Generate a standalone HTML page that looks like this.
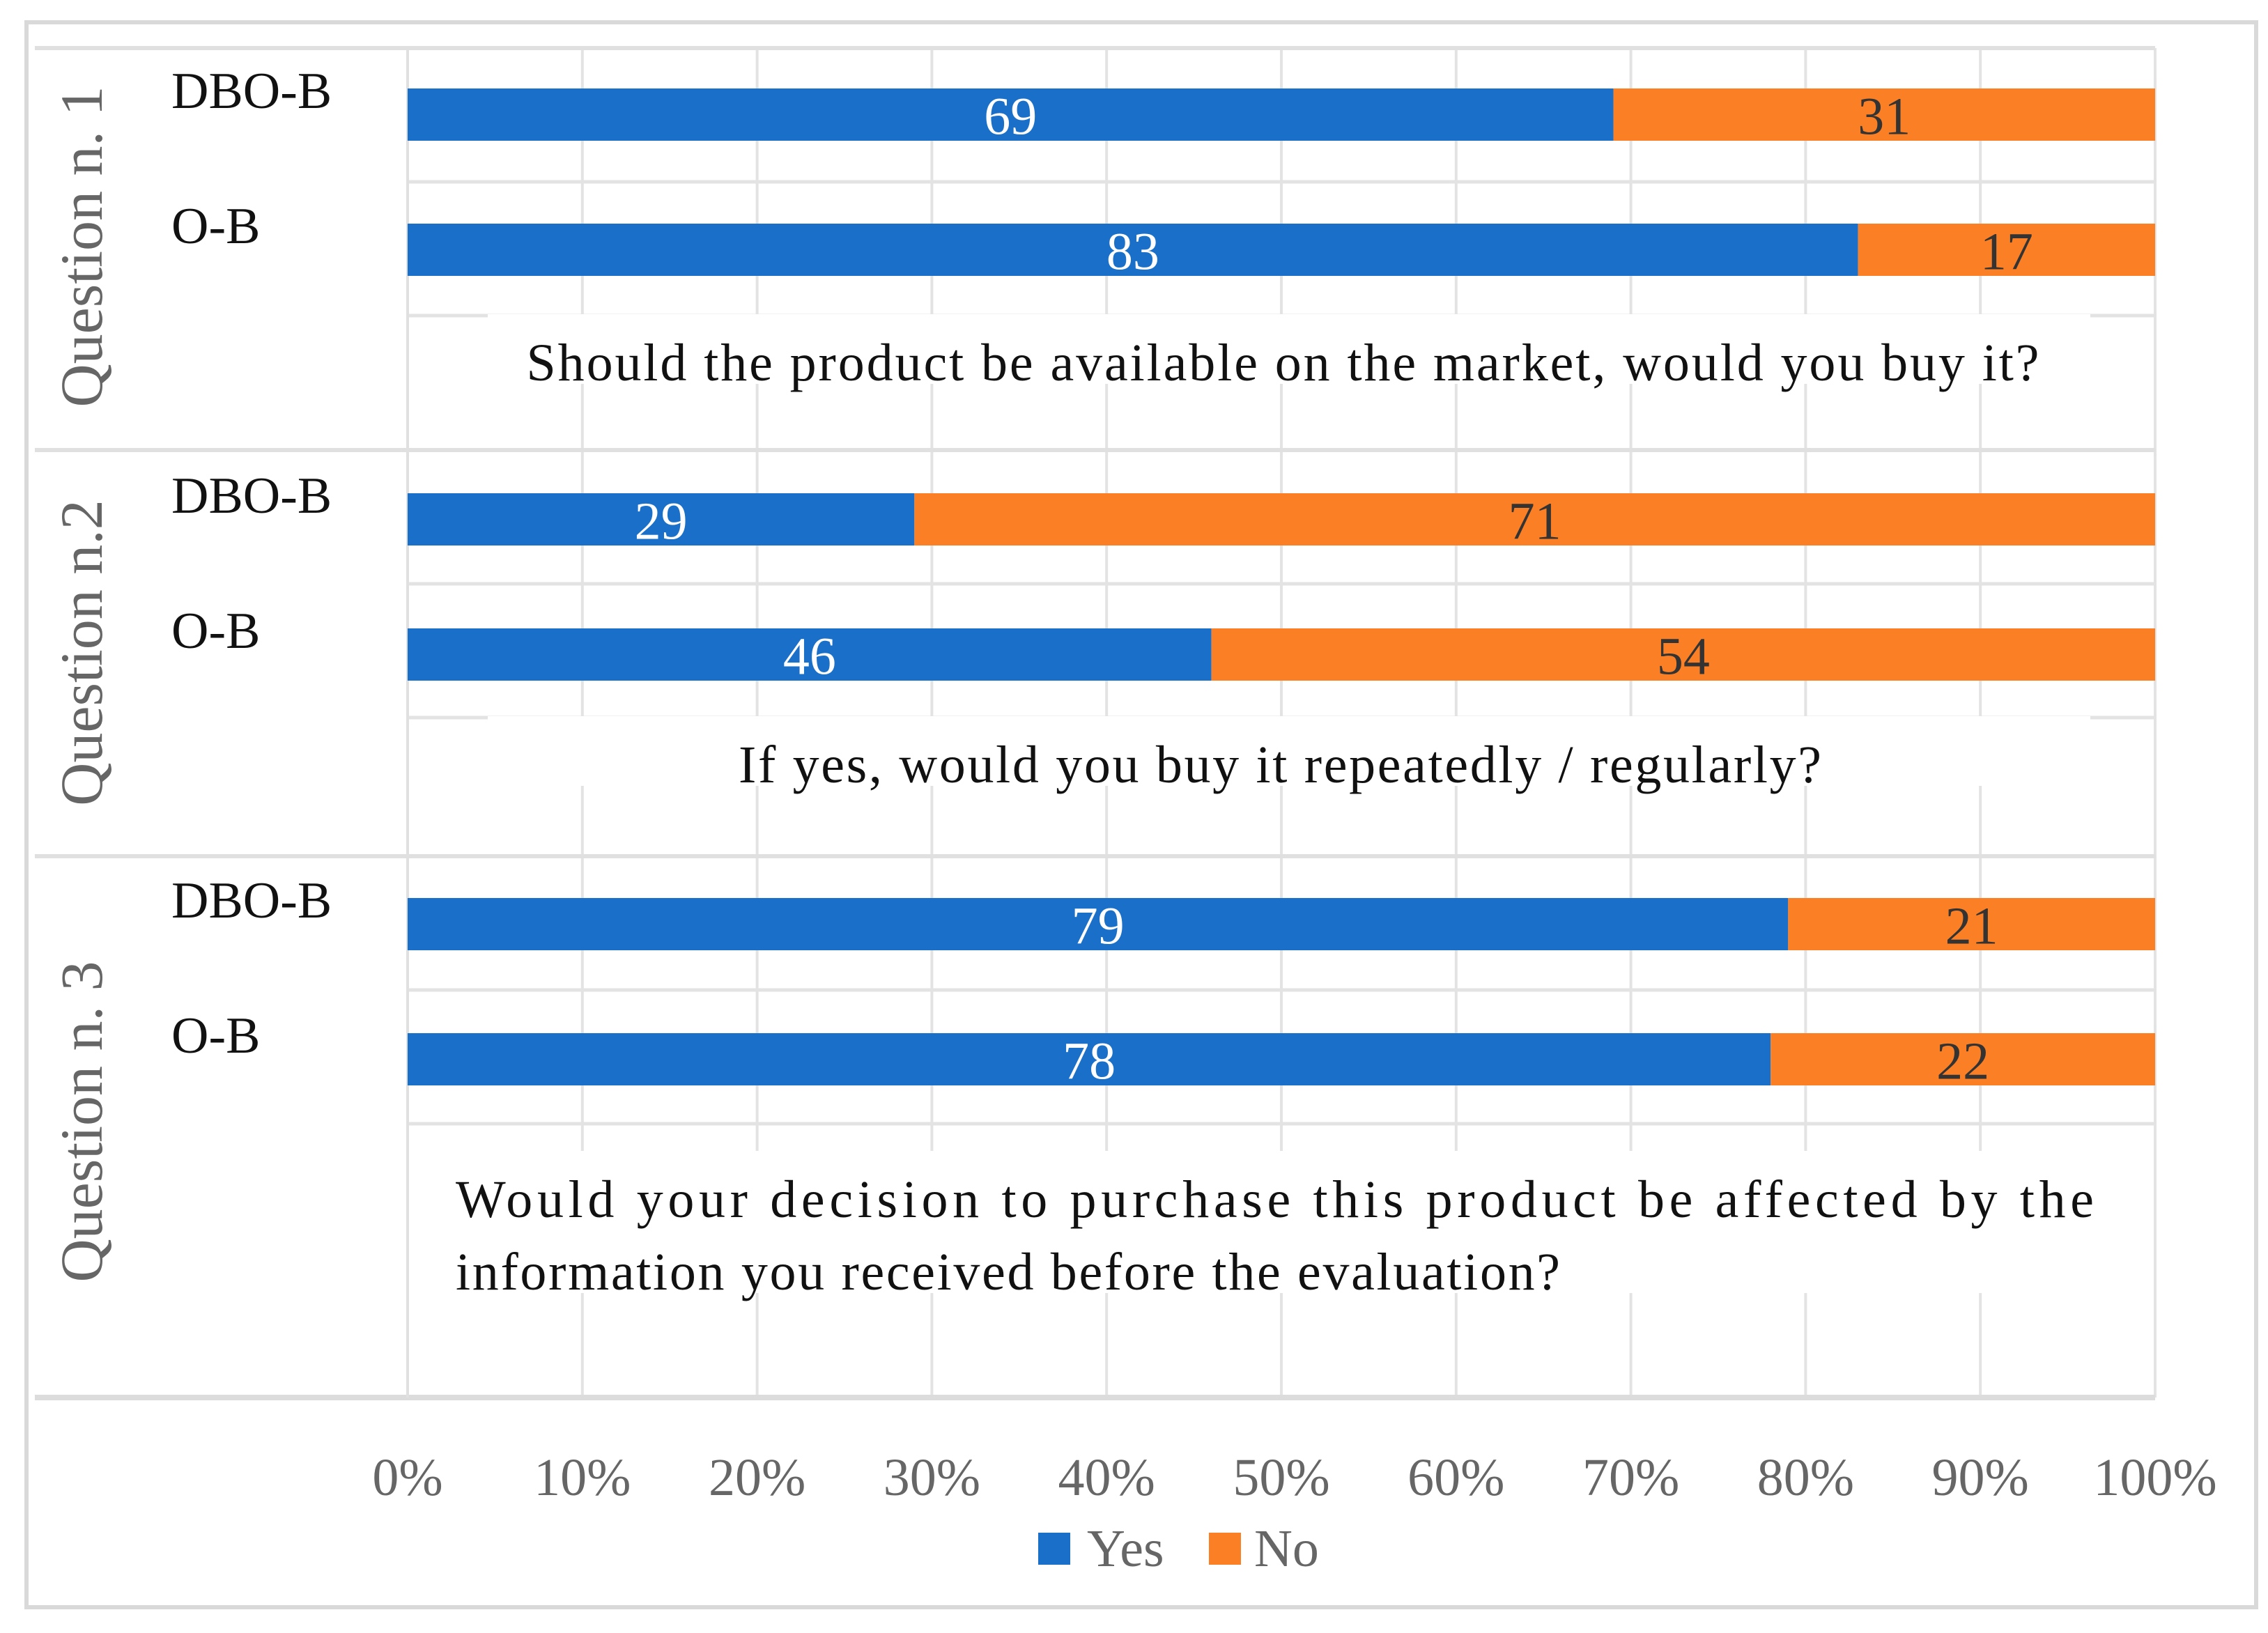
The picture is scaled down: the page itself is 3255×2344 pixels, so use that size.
<!DOCTYPE html>
<html><head><meta charset="utf-8"><style>
html,body{margin:0;padding:0;background:#fff;}
svg{display:block;}
text{font-family:"Liberation Serif",serif;}
</style></head><body>
<svg id="chart" width="3255" height="2344" viewBox="0 0 3255 2344" xmlns="http://www.w3.org/2000/svg">
<rect x="0" y="0" width="3255" height="2344" fill="#fff"/>
<rect x="38" y="32" width="3200" height="2275" fill="#fff" stroke="#d9d9d9" stroke-width="6"/>
<g id="grid"></g>
<g id="bars"></g>
<g id="labels"></g>
</svg>
<script>
const groups = ["Question n. 1", "Question n.2", "Question n. 3"];
const categories = ["DBO-B", "O-B"];
const yesValues = [69, 83, 29, 46, 79, 78];
const noValues = [31, 17, 71, 54, 21, 22];
const tickLabels = ["0%","10%","20%","30%","40%","50%","60%","70%","80%","90%","100%"];
const questions = [
  ["Should the product be available on the market, would you buy it?"],
  ["If yes, would you buy it repeatedly / regularly?"],
  ["Would your decision to purchase this product be affected by the", "information you received before the evaluation?"]
];

const NS = "http://www.w3.org/2000/svg";
const X0 = 585, X1 = 3093;
const xs = v => X0 + (X1 - X0) * v / 100;
const groupTop = [69, 646, 1229];
const barH = 75;
const barTops = [127, 321, 708, 902, 1289, 1483];
const BLUE = "#1a70c8", ORANGE = "#fb7f24";
function mk(tag, attrs, parent, txt){
  const e = document.createElementNS(NS, tag);
  for (const k in attrs) e.setAttribute(k, attrs[k]);
  if (txt !== undefined) e.textContent = txt;
  parent.appendChild(e);
  return e;
}
const grid = document.getElementById("grid");
const bars = document.getElementById("bars");
const labels = document.getElementById("labels");

for (let i = 0; i <= 10; i++) {
  const l = mk("line", {x1: xs(i*10), x2: xs(i*10), y1: 69, y2: 2006, stroke: "#e3e3e3", "stroke-width": 4}, grid);
  
  
}
for (let g = 0; g < 3; g++) {
  const sep = mk("line", {x1: 50, x2: X1, y1: groupTop[g], y2: groupTop[g], stroke: "#e0e0e0", "stroke-width": 6}, grid);
  
  
  for (let k = 1; k <= 2; k++) {
    const y = groupTop[g] + 192 * k;
    const hl = mk("line", {x1: X0, x2: X1, y1: y, y2: y, stroke: "#e3e3e3", "stroke-width": 5}, grid);
    
    
  }
}
const axisLine = mk("line", {x1: 50, x2: X1, y1: 2006, y2: 2006, stroke: "#dcdcdc", "stroke-width": 8}, grid);


const leftLine = mk("line", {x1: X0, x2: X0, y1: 69, y2: 2006, stroke: "#e0e0e0", "stroke-width": 4}, grid);



const qTextY = [[521], [1098], [1722, 1826]];
const qCenter = [1841, 1837];
const qLen = [[2171], [1554], [2351, 1585]];
for (let g = 0; g < 3; g++) {
  const lines = questions[g];
  const top = qTextY[g][0] - 70, bot = qTextY[g][lines.length-1] + 30;
  const bg = mk("rect", {x: g === 2 ? 600 : 700, y: top, width: g === 2 ? 2440 : 2300, height: bot - top, fill: "#fff"}, grid);
  
  
  for (let i = 0; i < lines.length; i++) {
    let t;
    if (g === 2) {
      t = mk("text", {x: 654, y: qTextY[g][i] + 25, "font-size": 76, fill: "#111", textLength: qLen[g][i], lengthAdjust: "spacing"}, labels, lines[i]);
    } else {
      t = mk("text", {x: qCenter[g], y: qTextY[g][i] + 25, "font-size": 76, fill: "#111", "text-anchor": "middle", textLength: qLen[g][i], lengthAdjust: "spacing"}, labels, lines[i]);
    }
    
    
  }
}

for (let i = 0; i < yesValues.length; i++) {
  const y = barTops[i];
  const yes = yesValues[i], no = noValues[i];
  const rb = mk("rect", {x: xs(0), y: y, width: xs(yes) - xs(0), height: barH, fill: BLUE}, bars);
  
  
  const ro = mk("rect", {x: xs(yes), y: y, width: xs(yes + no) - xs(yes), height: barH, fill: ORANGE}, bars);
  
  
  const ty = mk("text", {x: (xs(0) + xs(yes)) / 2, y: y + barH/2 + 28, "font-size": 76, fill: "#fff", "text-anchor": "middle"}, labels, String(yes));
  
  
  const tn = mk("text", {x: (xs(yes) + xs(yes + no)) / 2, y: y + barH/2 + 28, "font-size": 76, fill: "#333", "text-anchor": "middle"}, labels, String(no));
  
  
  const cl = mk("text", {x: 246, y: y + 28, "font-size": 74, fill: "#111"}, labels, categories[i % 2]);
  
  
}

const gCenterY = [354, 937, 1610];
for (let g = 0; g < 3; g++) {
  const t = mk("text", {x: 0, y: 0, "font-size": 86, fill: "#666", "text-anchor": "middle", transform: `translate(146 ${gCenterY[g]}) rotate(-90)`}, labels, groups[g]);
  
  
}

for (let i = 0; i < tickLabels.length; i++) {
  const t = mk("text", {x: xs(i*10), y: 2146, "font-size": 76, fill: "#666", "text-anchor": "middle"}, labels, tickLabels[i]);
  
  
}

const lg = mk("g", {}, labels);


const ly = mk("rect", {x: 1490, y: 2200, width: 46, height: 46, fill: BLUE}, lg);


const lyt = mk("text", {x: 1560, y: 2248, "font-size": 76, fill: "#666"}, lg, "Yes");


const ln = mk("rect", {x: 1735, y: 2200, width: 46, height: 46, fill: ORANGE}, lg);


const lnt = mk("text", {x: 1800, y: 2248, "font-size": 76, fill: "#666"}, lg, "No");


</script>
</body></html>
